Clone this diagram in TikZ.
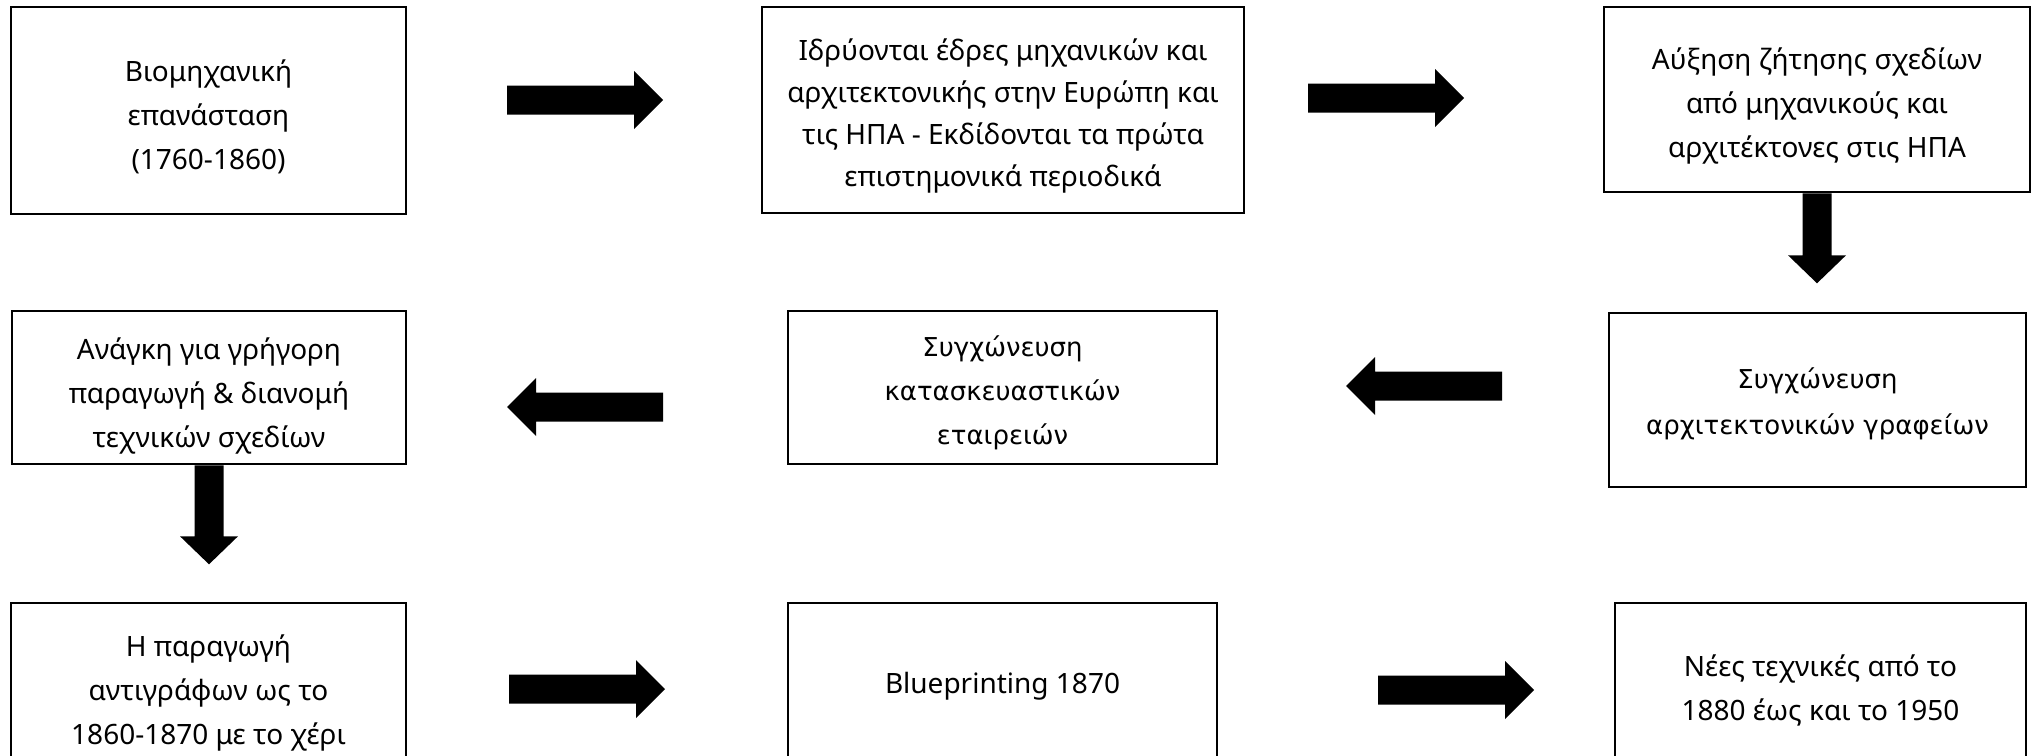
\documentclass[tikz,border=0pt]{standalone}
\usepackage{fontspec}
\setmainfont{Noto Sans}
\newfontfamily\tahfont{DejaVu Sans}
\tikzset{
  box/.style={draw, line width=1.3pt, rectangle, inner sep=0pt},
  txt/.style={align=center, inner sep=0pt, font=\fontsize{14}{22}\selectfont},
  txtt/.style={txt, font=\tahfont\fontsize{13}{23}\selectfont},
  pics/rarrow/.style={code={\fill (-78,-14.5) -- (49,-14.5) -- (49,-29) -- (78,0)
      -- (49,29) -- (49,14.5) -- (-78,14.5) -- cycle;}},
  pics/darrow/.style={code={\fill (-14.5,0) -- (14.5,0) -- (14.5,#1-28) -- (29,#1-28)
      -- (0,#1) -- (-29,#1-28) -- (-14.5,#1-28) -- cycle;}},
}
\begin{document}
\begin{tikzpicture}[x=0.5pt,y=-0.5pt]
\useasboundingbox (0,0) rectangle (2037,755);
\clip (0,0) rectangle (2037,755);
\fill[white] (0,0) rectangle (2037,755);

% row 1
\node[box, minimum width=197.5pt, minimum height=103.5pt] (b1) at (208.5,110.5) {};
\node[txt] (t1) at ([yshift=-3pt]b1.center)
  {Βιομηχανική\\επανάσταση\\(1760-1860)};
\node[box, minimum width=241pt, minimum height=103pt] (b2) at (1003,110) {};
\node[txt, font=\fontsize{14}{21}\selectfont] (t2) at ([yshift=-3pt]b2.center)
  {Ιδρύονται έδρες μηχανικών και\\αρχιτεκτονικής στην Ευρώπη και\\τις ΗΠΑ - Εκδίδονται τα πρώτα\\επιστημονικά περιοδικά};
\node[box, minimum width=213pt, minimum height=92.5pt] (b3) at (1817,99.5) {};
\node[txt] (t3) at ([yshift=-3pt]b3.center)
  {Αύξηση ζήτησης σχεδίων\\από μηχανικούς και\\αρχιτέκτονες στις ΗΠΑ};

% row 2
\node[box, minimum width=208.5pt, minimum height=87pt] (b4) at (1817.5,400) {};
\node[txtt] (t4) at ([yshift=-2pt]b4.center)
  {Συγχώνευση\\αρχιτεκτονικών γραφείων};
\node[box, minimum width=214.5pt, minimum height=76.5pt] (b5) at (1002.5,387.5) {};
\node[txtt, font=\tahfont\fontsize{13}{22}\selectfont] (t5) at ([yshift=-2.5pt]b5.center)
  {Συγχώνευση\\κατασκευαστικών\\εταιρειών};
\node[box, minimum width=197pt, minimum height=76.5pt] (b6) at (209,387.5) {};
\node[txt] (t6) at ([yshift=-4pt]b6.center)
  {Ανάγκη για γρήγορη\\παραγωγή \& διανομή\\τεχνικών σχεδίων};

% row 3
\node[box, minimum width=197.5pt, minimum height=87pt] (b7) at (208.5,690) {};
\node[txt] (t7) at ([yshift=-1.5pt]b7.center)
  {Η παραγωγή\\αντιγράφων ως το\\1860-1870 με το χέρι};
\node[box, minimum width=214.5pt, minimum height=87pt] (b8) at (1002.5,690) {};
\node[txt] (t8) at ([yshift=2pt]b8.center) {Blueprinting 1870};
\node[box, minimum width=205.5pt, minimum height=87pt] (b9) at (1820.5,690) {};
\node[txt] (t9) at (b9.center)
  {Νέες τεχνικές από το\\1880 έως και το 1950};

% arrows
\pic (a1) at (585,100) {rarrow};
\pic (a2) at (1386,98) {rarrow};
\pic (a3) at (b3.south) {darrow=90};
\pic[rotate=180] (a4) at (1424,386) {rarrow};
\pic[rotate=180] (a5) at (585,407) {rarrow};
\pic (a6) at (b6.south) {darrow=99};
\pic (a7) at (587,689) {rarrow};
\pic (a8) at (1456,690) {rarrow};
\end{tikzpicture}
\end{document}
